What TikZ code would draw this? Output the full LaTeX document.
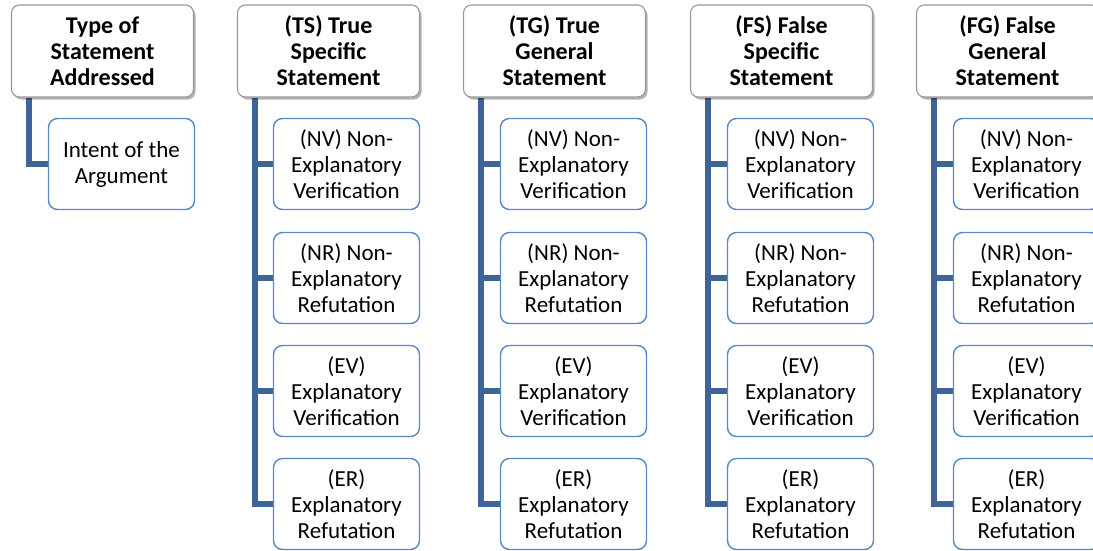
\documentclass[tikz,border=0pt]{standalone}
\usepackage{fontspec}
\setmainfont{Carlito}
\usetikzlibrary{shadows,backgrounds}
\definecolor{barblue}{HTML}{3F6598}
\definecolor{boxblue}{HTML}{5A88C2}
\definecolor{hdrgray}{HTML}{9A9A9A}
\tikzset{
 hdr/.style={draw=hdrgray, line width=1.1pt, fill=white, rounded corners=8pt,
   minimum width=182pt, minimum height=92pt, inner sep=0pt, align=center,
   font=\fontsize{24}{26}\selectfont\bfseries,
   drop shadow={shadow xshift=2pt, shadow yshift=-2.5pt, opacity=0.3, fill=black}},
 kid/.style={draw=boxblue, line width=1.4pt, fill=white, rounded corners=9pt,
   minimum width=146pt, minimum height=91pt, inner sep=0pt, align=center,
   font=\fontsize{23}{26}\selectfont},
 conn/.style={draw=barblue, line width=6pt, line join=miter}
}
\begin{document}
\begin{tikzpicture}[x=1pt,y=-1pt]
\useasboundingbox (0,0) rectangle (1093,550);
\clip (0,0) rectangle (1093,550);
% headers
\node[hdr] (h0) at (102.5,51) {Type of\\Statement\\Addressed};
\node[hdr] (h1) at (328.5,51) {(TS) True\\Specific\\Statement};
\node[hdr] (h2) at (554.5,51) {(TG) True\\General\\Statement};
\node[hdr] (h3) at (781.5,51) {(FS) False\\Specific\\Statement};
\node[hdr] (h4) at (1007.5,51) {(FG) False\\General\\Statement};
% column 0 child
\node[kid] (c0a) at (121.5,164) {Intent of the\\Argument};
% children
\foreach \i/\cx in {1/346.5,2/573.5,3/800.5,4/1026.5}{
  \node[kid] (c\i a) at (\cx,164) {(NV) Non-\\Explanatory\\Verification};
  \node[kid] (c\i b) at (\cx,278) {(NR) Non-\\Explanatory\\Refutation};
  \node[kid] (c\i c) at (\cx,391) {(EV)\\Explanatory\\Verification};
  \node[kid] (c\i d) at (\cx,504) {(ER)\\Explanatory\\Refutation};
}
% connectors
\begin{scope}[on background layer]
\coordinate (b0) at ([xshift=18pt]h0.south west);
\draw[conn] (b0) |- (c0a.west);
\foreach \i in {1,2,3,4}{
  \coordinate (b\i) at ([xshift=18pt]h\i.south west);
  \draw[conn] (b\i) |- (c\i d.west);
  \draw[conn] (b\i |- c\i a.west) -- (c\i a.west);
  \draw[conn] (b\i |- c\i b.west) -- (c\i b.west);
  \draw[conn] (b\i |- c\i c.west) -- (c\i c.west);
}
\end{scope}
\end{tikzpicture}
\end{document}
